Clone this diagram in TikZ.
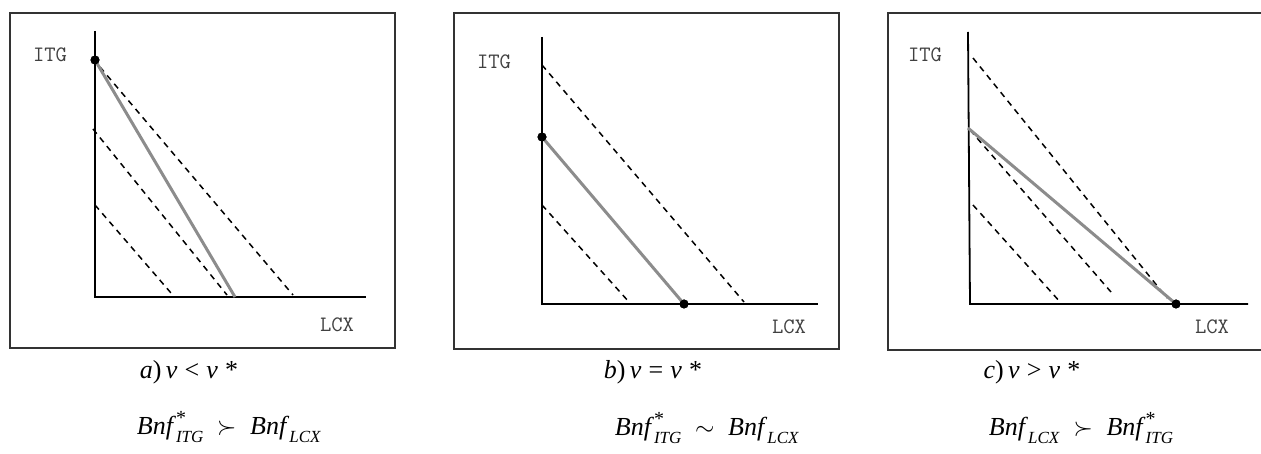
\documentclass[tikz,border=0pt]{standalone}
\usepackage{fontspec}
\setmainfont{Liberation Serif}
\newcommand{\Bnf}[2]{\textit{Bnf}\makebox[0pt][l]{\raisebox{0.4em}{\fontsize{20}{20}\selectfont #1}}\raisebox{-0.3em}{\fontsize{17}{17}\selectfont\textit{#2}}}
\begin{document}
\begin{tikzpicture}[x=1pt,y=-1pt,
  frame/.style={draw=black!80, line width=1.5pt},
  axis/.style={draw=black, line width=1.8pt},
  budget/.style={draw=black!45, line width=3pt},
  indiff/.style={draw=black, line width=1.5pt, dash pattern=on 6pt off 5pt},
  dotpt/.style={circle, fill=black, inner sep=0pt, minimum size=9pt},
  axlabel/.style={font=\ttfamily\fontsize{22}{22}\selectfont, text=black!75, inner sep=0pt},
  captionlbl/.style={font=\fontsize{26}{26}\selectfont, inner sep=0pt},
  formula/.style={font=\fontsize{26}{26}\selectfont, inner sep=0pt},
  relsym/.style={font=\fontsize{30}{30}\selectfont}]
\useasboundingbox (0,0) rectangle (1261,454);

% ---------- panel a ----------
\draw[frame] (10,13) rectangle (395,348);
\coordinate (aY) at (95,31);
\coordinate (aO) at (95,297);
\coordinate (aX) at (366,297);
\draw[axis] (aY) -- (aO) -- (aX);
\coordinate (a1s) at (100,67);  \coordinate (a1e) at (293,295);
\coordinate (a2s) at (93,129);  \coordinate (a2e) at (227,295);
\coordinate (a3s) at (95,205);  \coordinate (a3e) at (171,293);
\draw[indiff] (a1s) -- (a1e);
\draw[indiff] (a2s) -- (a2e);
\draw[indiff] (a3s) -- (a3e);
\node[dotpt] (aD) at (95,60) {};
\coordinate (aB) at (235,297);
\draw[budget] (aD.center) -- (aB);
\fill (aD) circle (4.5pt);
\node[axlabel] (aITG) at (50,55) {ITG};
\node[axlabel] (aLCX) at (337,325) {LCX};
\node[captionlbl] (acap) at (189,372) {\textit{a})\,\textit{ν}\;<\;\textit{ν}\;*};
\node[formula] (aform) at (229,427) {\Bnf{*}{ITG}\; {\fontsize{30}{30}\selectfont$\succ$}\; \Bnf{}{LCX}};

% ---------- panel b ----------
\draw[frame] (454,13) rectangle (839,349);
\coordinate (bY) at (542,37);
\coordinate (bO) at (542,304);
\coordinate (bX) at (818,304);
\draw[axis] (bY) -- (bO) -- (bX);
\coordinate (b1s) at (542,65);  \coordinate (b1e) at (744,302);
\coordinate (b2s) at (542,205); \coordinate (b2e) at (629,302);
\draw[indiff] (b1s) -- (b1e);
\draw[indiff] (b2s) -- (b2e);
\node[dotpt] (bD1) at (542,137) {};
\node[dotpt] (bD2) at (684,304) {};
\draw[budget] (bD1.center) -- (bD2.center);
\fill (bD1) circle (4.5pt);
\fill (bD2) circle (4.5pt);
\node[axlabel] (bITG) at (494,62) {ITG};
\node[axlabel] (bLCX) at (789,327) {LCX};
\node[captionlbl] (bcap) at (653,372) {\textit{b})\,\textit{ν}\;=\;\textit{ν}\;*};
\node[formula] (bform) at (707,428) {\Bnf{*}{ITG}\; {\fontsize{30}{30}\selectfont$\sim$}\; \Bnf{}{LCX}};

% ---------- panel c ----------
\draw[frame] (1265,13) -- (888,13) -- (888,350) -- (1265,350);
\coordinate (cY) at (968,32);
\coordinate (cO) at (970,304);
\coordinate (cX) at (1248,304);
\draw[axis] (cY) -- (cO) -- (cX);
\coordinate (c1s) at (973,58);  \coordinate (c1e) at (1167,298);
\coordinate (c2s) at (970,130); \coordinate (c2e) at (1111,292);
\coordinate (c3s) at (973,205); \coordinate (c3e) at (1061,303);
\draw[indiff] (c1s) -- (c1e);
\draw[indiff] (c2s) -- (c2e);
\draw[indiff] (c3s) -- (c3e);
\coordinate (cB) at (968,128);
\node[dotpt] (cD) at (1176,304) {};
\draw[budget] (cB) -- (cD.center);
\fill (cD) circle (4.5pt);
\node[axlabel] (cITG) at (925,55) {ITG};
\node[axlabel] (cLCX) at (1212,327) {LCX};
\node[captionlbl] (ccap) at (1032,372) {\textit{c})\,\textit{ν}\;>\;\textit{ν}\;*};
\node[formula] (cform) at (1081,428) {\Bnf{}{LCX}\; {\fontsize{30}{30}\selectfont$\succ$}\; \Bnf{*}{ITG}};
\end{tikzpicture}
\end{document}
